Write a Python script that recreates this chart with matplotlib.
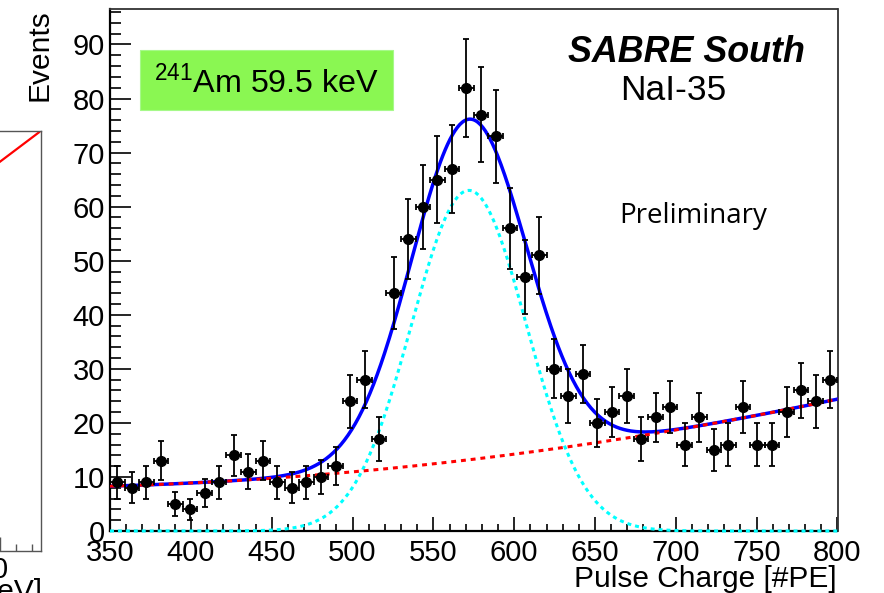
import numpy as np
import matplotlib
matplotlib.use('Agg')
import matplotlib.pyplot as plt
from matplotlib.patches import Rectangle
from matplotlib.ticker import MultipleLocator, FixedLocator

plt.rcParams['font.family'] = ['Liberation Sans', 'DejaVu Sans']
plt.rcParams['mathtext.fontset'] = 'custom'
plt.rcParams['mathtext.rm'] = 'Liberation Sans'

# ---------------- data ----------------
bin_edges = np.linspace(350, 800, 51)          # 50 bins of 9 PE
counts = [9, 8, 9, 13, 5, 4, 7, 9, 14, 11,
          13, 9, 8, 9, 10, 12, 24, 28, 17, 44,
          54, 60, 65, 67, 82, 77, 73, 56, 47, 51,
          30, 25, 29, 20, 22, 25, 17, 21, 23, 16,
          21, 15, 16, 23, 16, 16, 22, 26, 24, 28]

# fit parameters: gaussian + 2nd-order polynomial background
gaus_amp, gaus_mean, gaus_sigma = 63.0, 572.0, 35.5
bkg_p0, bkg_p1, bkg_p2 = 8.3, 0.00849, 6.06e-5     # in (x - 350)

x_range = (350, 800)
y_range = (0, 96.5)
x_ticks = [350, 400, 450, 500, 550, 600, 650, 700, 750, 800]
y_ticks = [0, 10, 20, 30, 40, 50, 60, 70, 80, 90]

# partial neighbouring panel (only its right edge is visible)
left_xlim = (-176, 40.7)
left_ylim = (0, 419.7)
left_line_x = [-176, 39]
left_line_y = [256.3, 418.4]
left_major_ticks = [0]
left_minor_ticks = [16, 32]

# ---------------- figure ----------------
W, H = 884, 593
fig = plt.figure(figsize=(W / 100, H / 100), dpi=100)

def fbox(x0, y0, x1, y1):
    return [x0 / W, 1 - y1 / H, (x1 - x0) / W, (y1 - y0) / H]

# left partial panel
axl = fig.add_axes(fbox(-176, 131, 40.7, 550.7))
axl.plot(left_line_x, left_line_y, color='#ff0000', lw=1.6)
axl.set_xlim(*left_xlim)
axl.set_ylim(*left_ylim)
axl.xaxis.set_major_locator(FixedLocator(left_major_ticks))
axl.xaxis.set_minor_locator(FixedLocator(left_minor_ticks))
axl.set_xticklabels(['0'])
axl.set_yticks([])
axl.tick_params(axis='x', which='both', direction='in', labelsize=21, pad=4,
                color='#555555', width=1.0)
axl.tick_params(axis='x', which='major', length=10)
axl.tick_params(axis='x', which='minor', length=5)
for s in axl.spines.values():
    s.set_color('#555555')
    s.set_linewidth(1.0)
fig.text(42 / W, 1 - 600 / H, 'Energy [keV]', ha='right', va='baseline', fontsize=21.5)

# main panel
ax = fig.add_axes(fbox(110, 9.3, 837.5, 531))
centers = 0.5 * (bin_edges[:-1] + bin_edges[1:])
half_w = 0.5 * np.diff(bin_edges)
cnt = np.array(counts, dtype=float)

xs = np.linspace(x_range[0], x_range[1], 600)
bkg = bkg_p0 + bkg_p1 * (xs - 350) + bkg_p2 * (xs - 350) ** 2
gaus = gaus_amp * np.exp(-0.5 * ((xs - gaus_mean) / gaus_sigma) ** 2)
total = bkg + gaus

ax.plot(xs, gaus, color='#00ffff', lw=2.2, dashes=(1.3, 1.3), zorder=3, clip_on=False)
ax.plot(xs, total, color='#0000ff', lw=2.5, zorder=3)
ax.plot(xs, bkg, color='#ff0000', lw=2.2, dashes=(1.6, 1.6), zorder=3.1)

ax.errorbar(centers, cnt, yerr=np.sqrt(cnt), xerr=half_w, fmt='o', color='black',
            ms=7, capsize=2.4, elinewidth=1.3, capthick=1.3, zorder=4)

ax.set_xlim(*x_range)
ax.set_ylim(*y_range)
ax.set_xticks(x_ticks)
ax.set_yticks(y_ticks)
ax.xaxis.set_minor_locator(MultipleLocator(10))
ax.yaxis.set_minor_locator(MultipleLocator(2))
ax.tick_params(axis='both', which='both', direction='in', top=False, right=False,
               width=1.2, labelsize=21)
ax.tick_params(axis='y', which='major', length=15, pad=3.6)
ax.tick_params(axis='y', which='minor', length=8)
ax.tick_params(axis='x', which='major', length=10, pad=5.5)
ax.tick_params(axis='x', which='minor', length=5)
for side in ['left', 'bottom']:
    ax.spines[side].set_linewidth(1.6)
    ax.spines[side].set_color('black')
for side in ['top', 'right']:
    ax.spines[side].set_linewidth(1.3)
    ax.spines[side].set_color('#333333')

# axis titles
fig.text(39.7 / W, 1 - 9.3 / H, 'Events', rotation=90, ha='center', va='top', fontsize=21.5)
fig.text(837 / W, 1 - 587 / H, 'Pulse Charge [#PE]', ha='right', va='baseline', fontsize=21.5)

# green label box
ax.add_patch(Rectangle((0.0412, 0.807), 0.3478, 0.115, transform=ax.transAxes,
                       facecolor='#8af752', edgecolor='#a6f98a', lw=0.8, zorder=5))
ax.text(0.215, 0.838, r'$^{\mathregular{241}}$Am 59.5 keV', transform=ax.transAxes,
        ha='center', va='baseline', fontsize=23.2, zorder=6)

ax.text(0.793, 0.8996, 'SABRE South', transform=ax.transAxes, ha='center', va='baseline',
        fontsize=25.8, fontweight='bold', fontstyle='italic')
ax.text(0.774, 0.826, 'NaI-35', transform=ax.transAxes, ha='center', va='baseline',
        fontsize=25.5)
ax.text(0.801, 0.591, 'Preliminary', transform=ax.transAxes, ha='center', va='baseline',
        fontsize=20, family=['Open Sans', 'DejaVu Sans'])

fig.savefig('out.png', dpi=100)
